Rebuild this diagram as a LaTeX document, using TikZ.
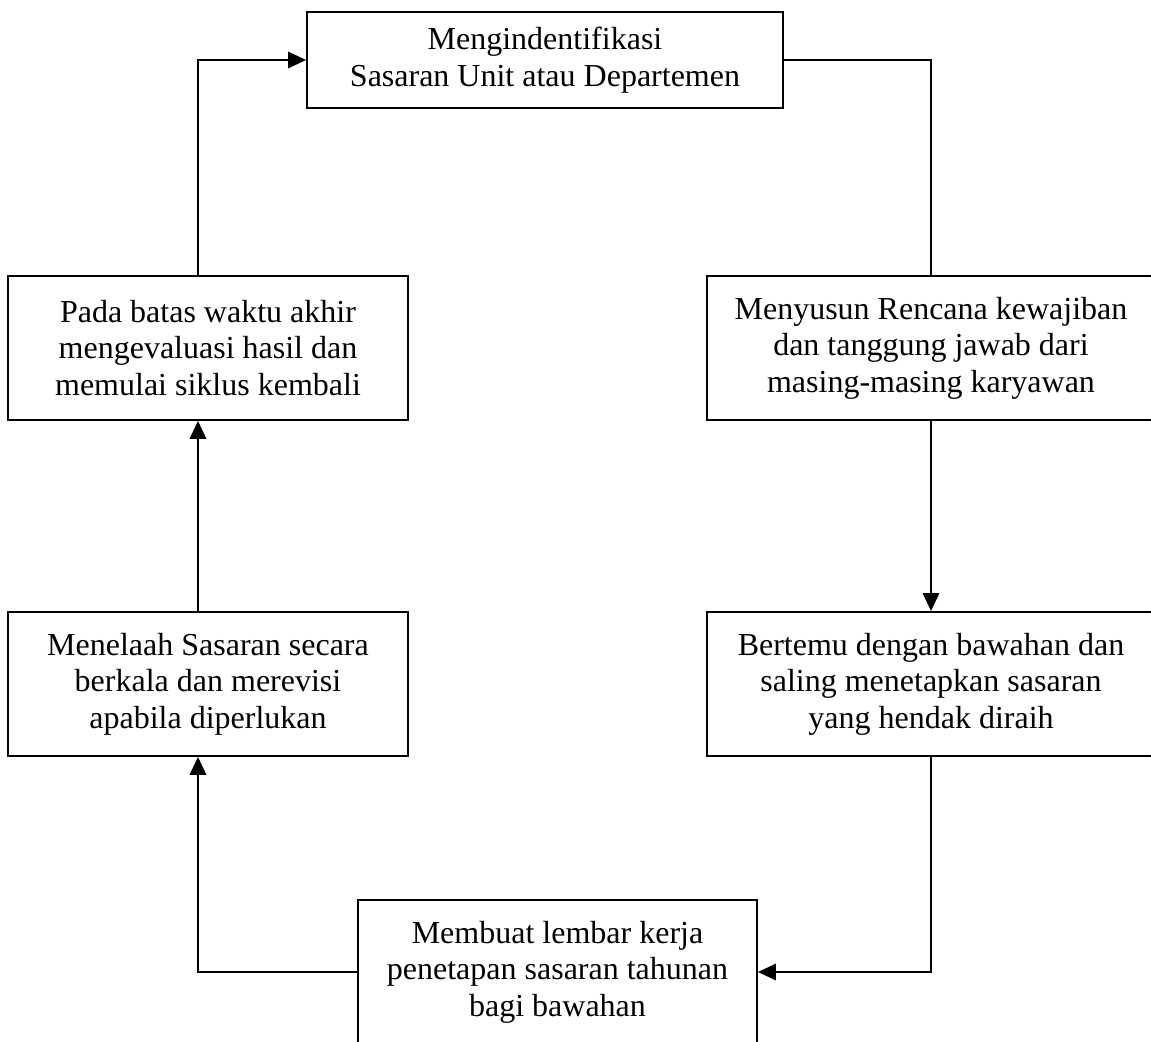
\documentclass[tikz,border=0pt]{standalone}
\usepackage{fontspec}
\setmainfont{Liberation Serif}
\usepackage{tikz}
\usetikzlibrary{arrows.meta}

\tikzset{
  kotak/.style={draw, line width=0.8pt, align=center, inner sep=0pt,
    font=\fontsize{16}{18.3}\selectfont},
  sambung/.style={line width=0.9pt},
  alur/.style={line width=1.4pt, -{Triangle[length=9pt,width=8pt]}},
}

\begin{document}
\begin{tikzpicture}[x=0.5pt,y=-0.5pt]
        \useasboundingbox (0,0) rectangle (1151,1042);
        \node[kotak, minimum width=238pt, minimum height=48pt] (sasaran) at (545,60)
            {Mengindentifikasi\\Sasaran Unit atau Departemen};
        \node[kotak, minimum width=224pt, minimum height=72pt] (rencana) at (931,348)
            {Menyusun Rencana kewajiban\\dan tanggung jawab dari\\masing-masing karyawan};
        \node[kotak, minimum width=224pt, minimum height=72pt] (bertemu) at (931,684)
            {Bertemu dengan bawahan dan\\saling menetapkan sasaran\\yang hendak diraih};
        \node[kotak, minimum width=199.5pt, minimum height=72pt] (lembar) at (557.5,972)
            {Membuat lembar kerja\\penetapan sasaran tahunan\\bagi bawahan};
        \node[kotak, minimum width=200pt, minimum height=72pt] (telaah) at (208,684)
            {Menelaah Sasaran secara\\berkala dan merevisi\\apabila diperlukan};
        \node[kotak, minimum width=200pt, minimum height=72pt] (evaluasi) at (208,348)
            {Pada batas waktu akhir\\mengevaluasi hasil dan\\memulai siklus kembali};
        \coordinate (kiri) at (198,0);
        % siklus
        \draw[sambung] (sasaran.east) -| (rencana.north);
        \draw[alur] (rencana) -- (bertemu);
        \draw[alur] (bertemu.south) |- (lembar.east);
        \draw[alur] (lembar.west) -| (telaah.south -| kiri);
        \draw[alur] (telaah.north -| kiri) -- (evaluasi.south -| kiri);
        \draw[alur] (evaluasi.north -| kiri) |- (sasaran.west);
    \end{tikzpicture}
\end{document}
